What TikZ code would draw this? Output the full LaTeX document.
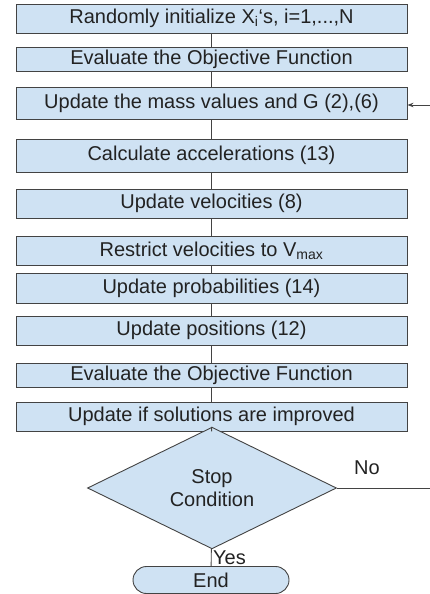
\documentclass[tikz,border=0pt]{standalone}
\usepackage{fontspec}
\setmainfont{Liberation Sans}
\usepackage{tikz}
\usetikzlibrary{shapes.geometric, shapes.misc, arrows.meta, positioning}
\definecolor{boxblue}{HTML}{CFE2F3}
\definecolor{edgegray}{HTML}{434343}
\definecolor{inkgray}{HTML}{222222}

\begin{document}
\begin{tikzpicture}[x=1pt, y=-1pt,
  stepbox/.style={draw=edgegray, fill=boxblue, line width=0.9pt, minimum width=391pt, minimum height=#1, inner sep=0pt, text=inkgray, font=\fontsize{20}{24}\selectfont},
  decision/.style={diamond, draw=edgegray, fill=boxblue, line width=0.9pt, minimum width=249pt, minimum height=98pt, inner sep=0pt, align=center, text=inkgray, font=\fontsize{20}{23}\selectfont},
  terminal/.style={rounded rectangle, draw=edgegray, fill=boxblue, line width=0.9pt, minimum width=156pt, minimum height=27pt, inner sep=0pt, text=inkgray, font=\fontsize{20}{24}\selectfont},
  link/.style={draw=edgegray, line width=0.9pt},
  lbl/.style={text=inkgray, font=\fontsize{20}{24}\selectfont, inner sep=1pt},
]
  \useasboundingbox (0,0) rectangle (429,594);

  % Nodes
  \node[stepbox=29pt] (init) at (211.5,18.5) {Randomly initialize X\textsubscript{i}‘s, i=1,...,N};
  \node[stepbox=24pt] (eval1) at (211.5,59) {Evaluate the Objective Function};
  \node[stepbox=32pt] (mass) at (211.5,103) {Update the mass values and G (2),(6)};
  \node[stepbox=33pt] (accel) at (211.5,155.5) {Calculate accelerations (13)};
  \node[stepbox=29pt] (vel) at (211.5,203.5) {Update velocities (8)};
  \node[stepbox=29pt] (vmax) at (211.5,250.5) {Restrict velocities to V\textsubscript{max}};
  \node[stepbox=30pt] (prob) at (211.5,288) {Update probabilities (14)};
  \node[stepbox=29pt] (pos) at (211.5,330.5) {Update positions (12)};
  \node[stepbox=24pt] (eval2) at (211.5,375) {Evaluate the Objective Function};
  \node[stepbox=29pt] (improve) at (211.5,416.5) {Update if solutions are improved};
  \node[decision] (stop) at (212,488) {Stop\\Condition};
  \node[terminal] (finish) at (211,580) {End};

  % Links
  \foreach \a/\b in {init/eval1, eval1/mass, mass/accel, accel/vel, vel/vmax, vmax/prob, prob/pos, pos/eval2, eval2/improve, improve/stop, stop/finish}
    \draw[link] (\a) -- (\b);

  % Loop back (runs off the right edge)
  \coordinate (backlow) at (440,488);
  \coordinate (backhigh) at (440,105);
  \draw[link, -{Stealth[length=6pt, width=4.5pt]}] (stop.east) -- (backlow) -- (backhigh) -- (mass.east |- backhigh);

  % Labels
  \node[lbl, anchor=north west] at (stop.south) {Yes};
  \node[lbl] at (367,468) {No};
\end{tikzpicture}
\end{document}
